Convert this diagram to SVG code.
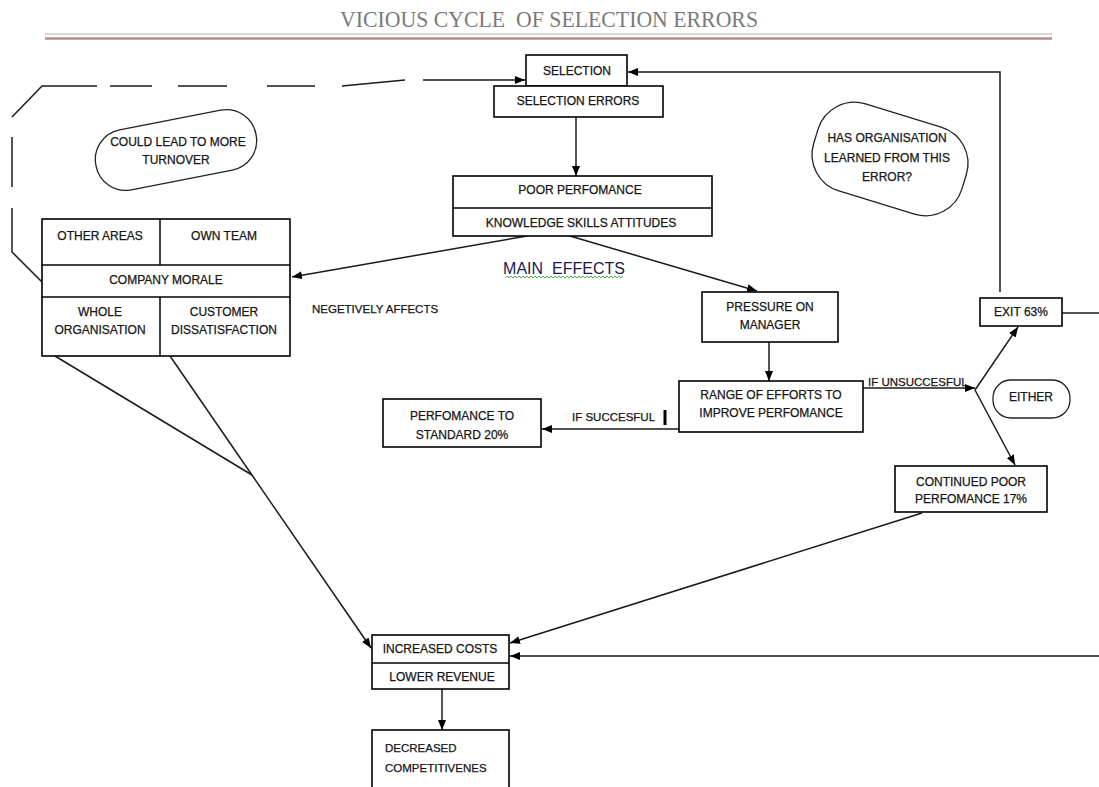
<svg xmlns="http://www.w3.org/2000/svg" width="1099" height="787" viewBox="0 0 1099 787">
<style>
  .box{fill:#fff;stroke:#000;stroke-width:1.6}
  .ln{fill:none;stroke:#1a1a1a;stroke-width:1.5}
  .t{font-family:"Liberation Sans",Arial,sans-serif;font-size:12px;fill:#151515;stroke:#151515;stroke-width:0.25;text-anchor:middle}
  .ts{font-family:"Liberation Sans",Arial,sans-serif;font-size:11.5px;fill:#151515;stroke:#151515;stroke-width:0.25}
</style>
<defs>
  <marker id="ah" markerUnits="userSpaceOnUse" markerWidth="11" markerHeight="9" refX="10" refY="4" orient="auto">
    <path d="M0,0 L10,4 L0,8 z" fill="#000"/>
  </marker>
</defs>
<rect width="1099" height="787" fill="#fff"/>

<g id="title">
  <text x="340" y="27" textLength="418" lengthAdjust="spacingAndGlyphs" font-family="Liberation Serif,serif" font-size="24" fill="#7a7a7a" xml:space="preserve">VICIOUS CYCLE  OF SELECTION ERRORS</text>
  <line x1="45" y1="34" x2="1052" y2="34" stroke="#c4a4a4" stroke-width="1"/>
  <line x1="45" y1="38.5" x2="1052" y2="38.5" stroke="#b48c8c" stroke-width="2.5"/>
</g>

<g id="connectors">
  <!-- dashed feedback loop -->
  <path class="ln" d="M97,86 L42,86 L12,117"/>
  <path class="ln" d="M12,137 L12,187"/>
  <path class="ln" d="M12,208 L12,252 L42,282"/>
  <path class="ln" d="M110,86 L152,86"/>
  <path class="ln" d="M178,86 L227,86"/>
  <path class="ln" d="M267,86 L315,86"/>
  <line class="ln" x1="342" y1="86" x2="405" y2="80"/>
  <line class="ln" x1="423" y1="80" x2="525" y2="80" marker-end="url(#ah)"/>
  <!-- exit back to selection -->
  <path class="ln" d="M1000,292 L1000,72 L628,72" marker-end="url(#ah)"/>
  <!-- selection errors to poor performance -->
  <line class="ln" x1="576" y1="117" x2="576" y2="176" marker-end="url(#ah)"/>
  <!-- poor performance to company morale -->
  <line class="ln" x1="527" y1="236" x2="292" y2="277" marker-end="url(#ah)"/>
  <!-- poor performance to pressure -->
  <line class="ln" x1="570" y1="236" x2="757" y2="291" marker-end="url(#ah)"/>
  <!-- pressure to range -->
  <line class="ln" x1="769" y1="342" x2="769" y2="381" marker-end="url(#ah)"/>
  <!-- range to standard -->
  <line class="ln" x1="679" y1="429" x2="542" y2="429" marker-end="url(#ah)"/>
  <line x1="665" y1="410" x2="665" y2="425" stroke="#000" stroke-width="3"/>
  <!-- range to junction -->
  <line class="ln" x1="863" y1="388" x2="975" y2="388" marker-end="url(#ah)"/>
  <line class="ln" x1="975" y1="390" x2="1018" y2="327" marker-end="url(#ah)"/>
  <line class="ln" x1="975" y1="390" x2="1015" y2="465" marker-end="url(#ah)"/>
  <!-- exit to right -->
  <line class="ln" x1="1062" y1="313" x2="1099" y2="313"/>
  <!-- morale to increased costs -->
  <line class="ln" x1="55" y1="356" x2="252" y2="475"/>
  <line class="ln" x1="170" y1="356" x2="371" y2="648" marker-end="url(#ah)"/>
  <!-- continued to increased costs -->
  <line class="ln" x1="922" y1="513" x2="510" y2="643" marker-end="url(#ah)"/>
  <!-- from right edge to increased costs -->
  <line class="ln" x1="1099" y1="656" x2="510" y2="656" marker-end="url(#ah)"/>
  <!-- increased costs to decreased -->
  <line class="ln" x1="442" y1="689" x2="442" y2="730" marker-end="url(#ah)"/>
</g>

<g id="selection">
  <rect class="box" x="526" y="55" width="101" height="31"/>
  <text class="t" x="577" y="75">SELECTION</text>
</g>
<g id="selection-errors">
  <rect class="box" x="494" y="86" width="169" height="31"/>
  <text class="t" x="578" y="105">SELECTION ERRORS</text>
</g>

<g id="poor-performance">
  <rect class="box" x="453" y="176" width="259" height="60"/>
  <line x1="453" y1="208" x2="712" y2="208" stroke="#000" stroke-width="1.5"/>
  <text class="t" x="580" y="194">POOR PERFOMANCE</text>
  <text class="t" x="581" y="227">KNOWLEDGE SKILLS ATTITUDES</text>
</g>

<g id="company-morale">
  <rect class="box" x="42" y="219" width="248" height="137"/>
  <line x1="42" y1="265" x2="290" y2="265" stroke="#000" stroke-width="1.5"/>
  <line x1="42" y1="297" x2="290" y2="297" stroke="#000" stroke-width="1.5"/>
  <line x1="160" y1="219" x2="160" y2="265" stroke="#000" stroke-width="1.5"/>
  <line x1="160" y1="297" x2="160" y2="356" stroke="#000" stroke-width="1.5"/>
  <text class="t" x="100" y="240">OTHER AREAS</text>
  <text class="t" x="224" y="240">OWN TEAM</text>
  <text class="t" x="166" y="284">COMPANY MORALE</text>
  <text class="t" x="100" y="316">WHOLE</text>
  <text class="t" x="100" y="334">ORGANISATION</text>
  <text class="t" x="224" y="316">CUSTOMER</text>
  <text class="t" x="224" y="334">DISSATISFACTION</text>
</g>

<g id="turnover-note">
  <rect x="94.5" y="119.5" width="163" height="61" rx="30" ry="30" fill="#fff" stroke="#222" stroke-width="1.3" transform="rotate(-11 176 150)"/>
  <text class="t" x="178" y="146">COULD LEAD TO MORE</text>
  <text class="t" x="176" y="164">TURNOVER</text>
</g>

<g id="learned-note">
  <rect x="812.5" y="113.5" width="155" height="91" rx="38" ry="38" fill="#fff" stroke="#222" stroke-width="1.3" transform="rotate(17 890 159)"/>
  <text class="t" x="887" y="142">HAS ORGANISATION</text>
  <text class="t" x="887" y="162">LEARNED FROM THIS</text>
  <text class="t" x="887" y="181">ERROR?</text>
</g>

<g id="main-effects">
  <text x="564" y="274" font-family="Liberation Sans,Arial,sans-serif" font-size="16" fill="#1a1a50" text-anchor="middle" xml:space="preserve">MAIN  EFFECTS</text>
  <path d="M505,278 l2,-2 l2,2 l2,-2 l2,2 l2,-2 l2,2 l2,-2 l2,2 l2,-2 l2,2 l2,-2 l2,2 l2,-2 l2,2 l2,-2 l2,2 l2,-2 l2,2 l2,-2 l2,2 l2,-2 l2,2 l2,-2 l2,2 l2,-2 l2,2 l2,-2 l2,2 l2,-2 l2,2 l2,-2 l2,2 l2,-2 l2,2 l2,-2 l2,2 l2,-2 l2,2 l2,-2 l2,2 l2,-2 l2,2 l2,-2 l2,2 l2,-2 l2,2 l2,-2 l2,2 l2,-2 l2,2 l2,-2 l2,2 l2,-2 l2,2 l2,-2 l2,2 l2,-2 l2,2 l2,-2" fill="none" stroke="#4caf50" stroke-width="1"/>
</g>

<g id="negatively-label">
  <text class="ts" x="312" y="313">NEGETIVELY AFFECTS</text>
</g>

<g id="pressure">
  <rect class="box" x="702" y="292" width="136" height="50"/>
  <text class="t" x="770" y="311">PRESSURE ON</text>
  <text class="t" x="770" y="329">MANAGER</text>
</g>

<g id="range">
  <rect class="box" x="679" y="381" width="184" height="51"/>
  <text class="t" x="771" y="399">RANGE OF EFFORTS TO</text>
  <text class="t" x="771" y="417">IMPROVE PERFOMANCE</text>
</g>

<g id="standard">
  <rect class="box" x="383" y="399" width="158" height="48"/>
  <text class="t" x="462" y="420">PERFOMANCE TO</text>
  <text class="t" x="462" y="439">STANDARD 20%</text>
</g>

<g id="labels">
  <text class="ts" x="572" y="421" font-size="10.5">IF SUCCESFUL</text>
  <text class="ts" x="868" y="386" fill="#333" stroke="none">IF UNSUCCESFUL</text>
</g>

<g id="exit">
  <rect class="box" x="980" y="298" width="82" height="28"/>
  <text class="t" x="1021" y="316">EXIT 63%</text>
</g>

<g id="either">
  <rect x="993" y="380" width="77" height="38" rx="18" ry="18" fill="#fff" stroke="#222" stroke-width="1.3"/>
  <text class="t" x="1031" y="401">EITHER</text>
</g>

<g id="continued">
  <rect class="box" x="895" y="466" width="152" height="46"/>
  <text class="t" x="971" y="486">CONTINUED POOR</text>
  <text class="t" x="971" y="503">PERFOMANCE 17%</text>
</g>

<g id="increased-costs">
  <rect class="box" x="372" y="635" width="137" height="54"/>
  <line x1="372" y1="663" x2="509" y2="663" stroke="#000" stroke-width="1.5"/>
  <text class="t" x="440" y="653">INCREASED COSTS</text>
  <text class="t" x="442" y="681">LOWER REVENUE</text>
</g>

<g id="decreased">
  <rect class="box" x="372" y="730" width="137" height="70"/>
  <text class="ts" x="385" y="752" font-size="12">DECREASED</text>
  <text class="ts" x="385" y="772" font-size="12">COMPETITIVENES</text>
</g>
</svg>
